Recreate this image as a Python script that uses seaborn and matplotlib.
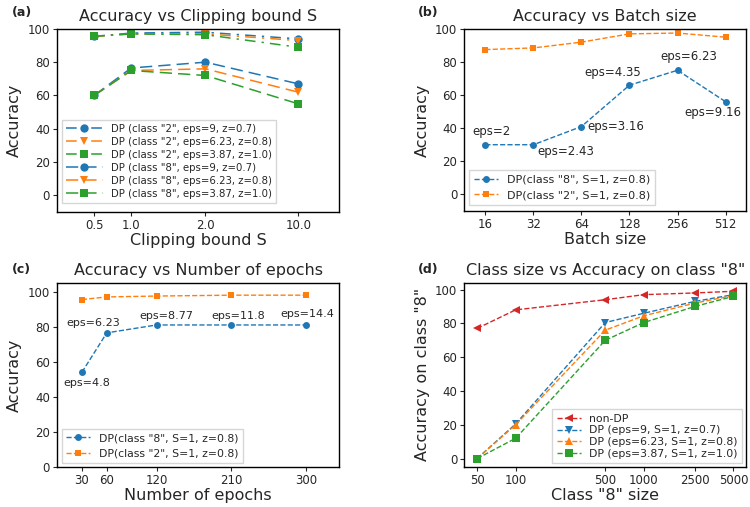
import matplotlib
matplotlib.use("Agg")
import matplotlib.pyplot as plt
import seaborn as sns

sns.set_style("ticks")
plt.rcParams["font.family"] = ["DejaVu Sans"]
plt.rcParams["axes.edgecolor"] = "black"
plt.rcParams["axes.linewidth"] = 1.0

# (a) clipping bound
clip_labels = ["0.5", "1.0", "2.0", "10.0"]
clip_pos = [0.5, 1.0, 2.0, 3.25]
a_c2_eps9 = [95.5, 97.5, 98.0, 94.0]
a_c2_eps623 = [95.5, 97.0, 97.0, 93.0]
a_c2_eps387 = [95.5, 97.0, 96.5, 89.0]
a_c8_eps9 = [60.0, 76.5, 80.0, 67.0]
a_c8_eps623 = [60.0, 75.0, 76.0, 62.0]
a_c8_eps387 = [60.0, 75.0, 72.0, 55.0]

# (b) batch size
batch = [16, 32, 64, 128, 256, 512]
b_c8 = [30.0, 30.0, 41.0, 66.0, 75.0, 56.0]
b_c2 = [87.5, 88.5, 92.0, 97.0, 97.5, 95.0]
b_eps = ["eps=2", "eps=2.43", "eps=3.16", "eps=4.35", "eps=6.23", "eps=9.16"]

# (c) epochs
epochs = [30, 60, 120, 210, 300]
c_c8 = [54.0, 76.5, 81.0, 81.0, 81.0]
c_c2 = [95.5, 97.0, 97.5, 98.0, 98.0]
c_eps = ["eps=4.8", "eps=6.23", "eps=8.77", "eps=11.8", "eps=14.4"]

# (d) class size
class_size = [50, 100, 500, 1000, 2500, 5000]
d_nondp = [77.0, 88.0, 94.0, 97.0, 98.0, 99.0]
d_eps9 = [0.0, 20.5, 80.5, 86.0, 93.0, 97.0]
d_eps623 = [0.0, 20.0, 76.0, 84.5, 92.0, 96.5]
d_eps387 = [0.0, 12.0, 70.0, 80.5, 90.0, 96.0]

blue, orange, green, red = "#1f77b4", "#ff7f0e", "#2ca02c", "#d62728"

fig = plt.figure(figsize=(7.5, 5.07), dpi=100)
ax_a = fig.add_axes([0.076, 0.582, 0.376, 0.361])
ax_b = fig.add_axes([0.619, 0.584, 0.376, 0.359])
ax_c = fig.add_axes([0.076, 0.079, 0.376, 0.363])
ax_d = fig.add_axes([0.619, 0.079, 0.376, 0.363])

TITLE = 11.5
LABEL = 11.5
TICK = 8.5

# ---- (a)
dd = (0, (7, 4, 1.5, 4))
ld = (0, (8, 4))
series_a = [
    (a_c2_eps9, blue, "o", dd, 'DP (class "2", eps=9, z=0.7)'),
    (a_c2_eps623, orange, "v", dd, 'DP (class "2", eps=6.23, z=0.8)'),
    (a_c2_eps387, green, "s", dd, 'DP (class "2", eps=3.87, z=1.0)'),
    (a_c8_eps9, blue, "o", ld, 'DP (class "8", eps=9, z=0.7)'),
    (a_c8_eps623, orange, "v", ld, 'DP (class "8", eps=6.23, z=0.8)'),
    (a_c8_eps387, green, "s", ld, 'DP (class "8", eps=3.87, z=1.0)'),
]
for vals, col, mk, ls, lab in series_a:
    sns.lineplot(x=clip_pos, y=vals, ax=ax_a, color=col, marker=mk, markersize=6,
                 markeredgewidth=0, linestyle=ls, linewidth=1.1, label=lab, sort=False)
ax_a.set_xlim(0, 3.8)
ax_a.set_ylim(-10, 100)
ax_a.set_xticks(clip_pos)
ax_a.set_xticklabels(clip_labels)
ax_a.set_yticks([0, 20, 40, 60, 80, 100])
ax_a.set_title("Accuracy vs Clipping bound S", fontsize=TITLE)
ax_a.set_xlabel("Clipping bound S", fontsize=LABEL, labelpad=1)
ax_a.set_ylabel("Accuracy", fontsize=LABEL)
ax_a.legend(loc="lower left", bbox_to_anchor=(0.018, 0.049), borderaxespad=0,
            fontsize=7.3, handlelength=3.6, labelspacing=0.3, fancybox=False,
            edgecolor="0.8")

# ---- (b)
sns.lineplot(x=batch, y=b_c8, ax=ax_b, color=blue, marker="o", markersize=5,
             markeredgewidth=0, linestyle="--", linewidth=1.0,
             label='DP(class "8", S=1, z=0.8)')
sns.lineplot(x=batch, y=b_c2, ax=ax_b, color=orange, marker="s", markersize=5,
             markeredgewidth=0, linestyle="--", linewidth=1.0,
             label='DP(class "2", S=1, z=0.8)')
ax_b.set_xscale("log", base=2)
ax_b.minorticks_off()
ax_b.set_xlim(11.8, 690)
ax_b.set_ylim(-10, 100)
ax_b.set_xticks(batch)
ax_b.set_xticklabels([str(b) for b in batch])
ax_b.set_yticks([0, 20, 40, 60, 80, 100])
b_off = [(6, 13), (32, -7), (34, 0), (-17, 13), (11, 14), (-13, -11)]
for xv, yv, txt, off in zip(batch, b_c8, b_eps, b_off):
    ax_b.annotate(txt, (xv, yv), xytext=off, textcoords="offset pixels",
                  ha="center", va="center", fontsize=8.5)
ax_b.set_title("Accuracy vs Batch size", fontsize=TITLE)
ax_b.set_xlabel("Batch size", fontsize=LABEL, labelpad=1)
ax_b.set_ylabel("Accuracy", fontsize=LABEL)
ax_b.legend(loc="lower left", bbox_to_anchor=(0.018, 0.035), borderaxespad=0,
            fontsize=8, handlelength=2.2, fancybox=False, edgecolor="0.8")

# ---- (c)
sns.lineplot(x=epochs, y=c_c8, ax=ax_c, color=blue, marker="o", markersize=5,
             markeredgewidth=0, linestyle="--", linewidth=1.0,
             label='DP(class "8", S=1, z=0.8)')
sns.lineplot(x=epochs, y=c_c2, ax=ax_c, color=orange, marker="s", markersize=5,
             markeredgewidth=0, linestyle="--", linewidth=1.0,
             label='DP(class "2", S=1, z=0.8)')
ax_c.set_xlim(0, 340)
ax_c.set_ylim(0, 105)
ax_c.set_xticks(epochs)
ax_c.set_yticks([0, 20, 40, 60, 80, 100])
c_off = [(5, -11), (-14, 10), (10, 9), (7, 9), (1, 11)]
for xv, yv, txt, off in zip(epochs, c_c8, c_eps, c_off):
    ax_c.annotate(txt, (xv, yv), xytext=off, textcoords="offset pixels",
                  ha="center", va="center", fontsize=8)
ax_c.set_title("Accuracy vs Number of epochs", fontsize=TITLE)
ax_c.set_xlabel("Number of epochs", fontsize=LABEL, labelpad=1)
ax_c.set_ylabel("Accuracy", fontsize=LABEL)
ax_c.legend(loc="lower left", bbox_to_anchor=(0.018, 0.022), borderaxespad=0,
            fontsize=7.8, handlelength=2.2, fancybox=False, edgecolor="0.8")

# ---- (d)
series_d = [
    (d_nondp, red, "<", "non-DP"),
    (d_eps9, blue, "v", "DP (eps=9, S=1, z=0.7)"),
    (d_eps623, orange, "^", "DP (eps=6.23, S=1, z=0.8)"),
    (d_eps387, green, "s", "DP (eps=3.87, S=1, z=1.0)"),
]
for vals, col, mk, lab in series_d:
    sns.lineplot(x=class_size, y=vals, ax=ax_d, color=col, marker=mk, markersize=5.5,
                 markeredgewidth=0, linestyle="--", linewidth=1.0, label=lab)
ax_d.set_xscale("log")
ax_d.minorticks_off()
ax_d.set_xticks(class_size)
ax_d.set_xticklabels([str(c) for c in class_size])
ax_d.set_yticks([0, 20, 40, 60, 80, 100])
ax_d.set_title('Class size vs Accuracy on class "8"', fontsize=TITLE)
ax_d.set_xlabel('Class "8" size', fontsize=LABEL, labelpad=1)
ax_d.set_ylabel('Accuracy on class "8"', fontsize=LABEL)
ax_d.legend(loc="lower right", bbox_to_anchor=(0.985, 0.022), borderaxespad=0,
            fontsize=7.8, handlelength=2.2, labelspacing=0.15, fancybox=False,
            edgecolor="0.8")

for ax in (ax_a, ax_b, ax_c, ax_d):
    ax.tick_params(labelsize=TICK, length=3, width=0.8, pad=2)

for x, y, t in [(0.016, 0.975, "(a)"), (0.557, 0.975, "(b)"),
                (0.016, 0.468, "(c)"), (0.557, 0.468, "(d)")]:
    fig.text(x, y, t, fontsize=9, fontweight="bold", ha="left", va="center")

fig.savefig("out.png", dpi=100)
